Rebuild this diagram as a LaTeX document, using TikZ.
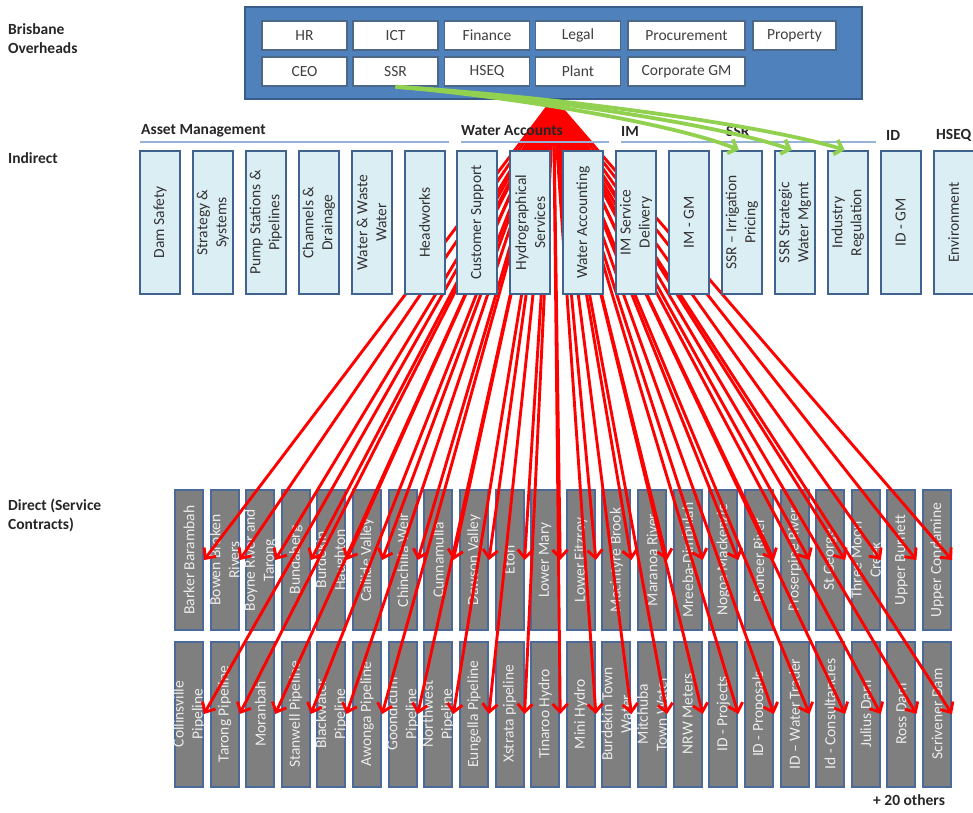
\documentclass[tikz,border=0pt]{standalone}
\usepackage{fontspec}
\setmainfont{Carlito}
\usetikzlibrary{arrows.meta}
\definecolor{topfill}{HTML}{4F81BD}
\definecolor{topdraw}{HTML}{385D8A}
\definecolor{indfill}{HTML}{DBEEF4}
\definecolor{inddraw}{HTML}{41648F}
\definecolor{dirfill}{HTML}{7F7F7F}
\definecolor{dirdraw}{HTML}{4A6A9A}
\definecolor{hdrcol}{HTML}{95B3D7}
\definecolor{arrgreen}{HTML}{92D050}
\definecolor{arrred}{HTML}{FF0000}
\begin{document}
\begin{tikzpicture}[x=1pt,y=-1pt,
  every node/.style={font=\fontsize{15.5}{19}\selectfont, inner sep=0pt},
  topouter/.style={draw=topdraw, fill=topfill, line width=1.5pt, minimum width=617pt, minimum height=92pt},
  topbox/.style={draw=topdraw!70!gray, fill=white, line width=1.5pt, minimum height=29pt, minimum width=85pt, text=black!75},
  indbox/.style={draw=inddraw, fill=indfill, line width=2pt, minimum width=40pt, minimum height=143pt},
  indtext/.style={rotate=90, align=center, text=black!80},
  dirbox/.style={draw=dirdraw, fill=dirfill, line width=2pt, minimum width=28pt},
  dirtext/.style={rotate=90, align=center, text=white!92!black},
  redarrow/.style={draw=arrred, line width=2.9pt, -{Straight Barb[length=8pt,width=15pt]}},
  greenarrow/.style={draw=arrgreen, line width=3.8pt, -{Straight Barb[length=7pt,width=15pt]}},
  hdr/.style={font=\bfseries\fontsize{15.5}{19}\selectfont, anchor=west, text=black!85},
  hdrline/.style={draw=hdrcol, line width=1.5pt},
  sidelabel/.style={font=\bfseries\fontsize{15.5}{19}\selectfont, anchor=west, align=left, text=black!85}
]
\useasboundingbox (0,0) rectangle (973,812);

% side labels
\node[sidelabel] (lbo) at (8,39) {Brisbane\\Overheads};
\node[sidelabel] (lin) at (8,158) {Indirect};
\node[sidelabel] (ldi) at (8,515) {Direct (Service\\Contracts)};
\node[hdr] (others) at (873,800) {+ 20 others};

% direct boxes, top row
\foreach \i/\t in {1/{Barker Barambah},2/{Bowen Broken\\Rivers},3/{Boyne River and\\Tarong},4/{Bundaberg},5/{Burdekin\\Haughton},6/{Callide Valley},7/{Chinchilla Weir},8/{Cunnamulla},9/{Dawson Valley},10/{Eton},11/{Lower Mary},12/{Lower Fitzroy},13/{Macintyre Brook},14/{Maranoa River},15/{Mreeba-Dimbulah},16/{Nogoa Mackenzie},17/{Pioneer River},18/{Proserpine River},19/{St George},20/{Three Moon\\Creek},21/{Upper Burnett},22/{Upper Condamine}}{
  \pgfmathsetmacro\xx{189+(\i-1)*35.62}
  \node[dirbox, minimum height=140pt] (d\i) at (\xx,560) {};
  \node[dirtext] (dt\i) at (d\i) {\t};
}
% direct boxes, bottom row
\foreach \i/\t in {1/{Collinsville\\Pipeline},2/{Tarong Pipeline},3/{Moranbah},4/{Stanwell Pipeline},5/{Blackwater\\Pipeline},6/{Awonga Pipeline},7/{Goondicum\\Pipeline},8/{Northwest\\Pipeline},9/{Eungella Pipeline},10/{Xstrata pipeline},11/{Tinaroo Hydro},12/{Mini Hydro},13/{Burdekin Town\\Water},14/{Mitchuba\\Town Water},15/{NRW Meters},16/{ID - Projects},17/{ID - Proposals},18/{ID – Water Trader},19/{Id - Consultancies},20/{Julius Dam},21/{Ross Dam},22/{Scrivener Dam}}{
  \pgfmathsetmacro\xx{189+(\i-1)*35.62}
  \node[dirbox, minimum height=145pt] (e\i) at (\xx,714) {};
  \node[dirtext] (et\i) at (e\i) {\t};
}

% red fan
\coordinate (apex) at (553.5,99);
\foreach \i in {1,...,22}{
  \draw[redarrow] (apex) -- (d\i.east);
  \draw[redarrow] (apex) -- (e\i.east);
}

% indirect boxes
\foreach \i/\t in {1/{Dam Safety},2/{Strategy \&\\Systems},3/{Pump Stations \&\\Pipelines},4/{Channels \&\\Drainage},5/{Water \& Waste\\Water},6/{Headworks},7/{Customer Support},8/{Hydrographical\\Services},9/{Water Accounting},10/{IM Service\\Delivery},11/{IM - GM},12/{SSR – Irrigation\\Pricing},13/{SSR Strategic\\Water Mgmt},14/{Industry\\Regulation},15/{ID - GM},16/{Environment}}{
  \pgfmathsetmacro\xx{160+(\i-1)*52.9}
  \node[indbox] (i\i) at (\xx,222.5) {};
  \node[indtext] (it\i) at (i\i) {\t};
}

% group headers
\node[hdr] (h1) at (141,131) {Asset Management};
\node[hdr] (h2) at (461,131) {Water Accounts};
\node[hdr] (h3) at (621,131) {IM};
\node[hdr] (h4) at (726,131) {SSR};
\node[hdr] (h5) at (886,135) {ID};
\node[hdr] (h6) at (936,135) {HSEQ};
\draw[hdrline] (140,142) -- (449,142);
\draw[hdrline] (461,142) -- (609,142);
\draw[hdrline] (621,142) -- (876,142);

% overheads
\node[topouter] (ovh) at (553.5,53) {};
\node[topbox] (hr) at (304.5,35.5) {HR};
\node[topbox] (ict) at (395.5,35.5) {ICT};
\node[topbox] (fin) at (487,35.5) {Finance};
\node[topbox] (leg) at (578,35.5) {Legal};
\node[topbox, minimum width=117pt] (proc) at (686.5,35.5) {Procurement};
\node[topbox, minimum width=83pt] (prop) at (794.5,35.5) {Property};
\node[topbox] (ceo) at (304.5,71.5) {CEO};
\node[topbox] (ssr) at (395.5,71.5) {SSR};
\node[topbox] (hseq) at (487,71.5) {HSEQ};
\node[topbox] (plant) at (578,71.5) {Plant};
\node[topbox, minimum width=117pt] (cgm) at (686.5,71.5) {Corporate GM};

% green arrows
\draw[greenarrow] (ssr.south) .. controls +(120,10) and +(-60,-25) .. ([xshift=-3pt]i12.north);
\draw[greenarrow] (ssr.south) .. controls +(140,10) and +(-70,-25) .. ([xshift=-3pt]i13.north);
\draw[greenarrow] (ssr.south) .. controls +(160,10) and +(-80,-25) .. ([xshift=-3pt]i14.north);
\end{tikzpicture}
\end{document}
